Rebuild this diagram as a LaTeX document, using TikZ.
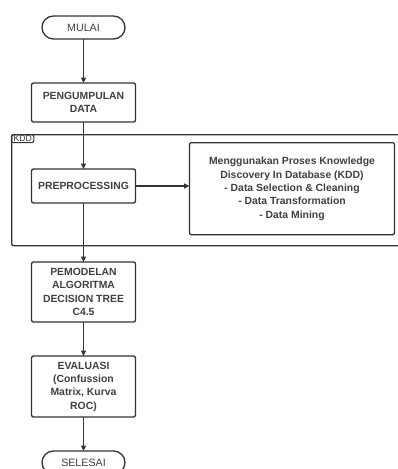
\documentclass[tikz,border=0pt]{standalone}
\usepackage{fontspec}
\setmainfont{Liberation Sans}
\usepackage{xcolor}
\usepackage{tikz}
\usetikzlibrary{arrows.meta, positioning}
\definecolor{ink}{HTML}{333333}
\definecolor{textgrey}{HTML}{404040}
\tikzstyle{terminal} = [rectangle, rounded corners=8.6pt, draw=ink, line width=1pt, fill=white, text=textgrey, minimum width=62.25pt, minimum height=17.25pt, align=center, font=\fontsize{8}{10}\selectfont, inner sep=1pt, outer sep=0pt]
\tikzstyle{process} = [rectangle, rounded corners=1.5pt, draw=ink, line width=1pt, fill=white, text=textgrey, minimum width=78pt, minimum height=29.25pt, align=center, font=\fontsize{7.8}{10}\selectfont\bfseries, inner xsep=3pt, inner ysep=1pt, outer sep=0pt]
\tikzstyle{infobox} = [process, minimum width=153.75pt, minimum height=69pt]
\tikzstyle{frame} = [rectangle, rounded corners=1.5pt, draw=ink, line width=1pt, inner sep=0pt]
\tikzstyle{tab} = [rectangle, rounded corners=1.5pt, draw=ink, line width=0.8pt, text=ink, font=\fontsize{6.5}{6.5}\selectfont, inner xsep=1.5pt, inner ysep=0.8pt]
\tikzstyle{flow} = [line width=1pt, -{Triangle[length=4pt, width=3.5pt]}, color=ink]

\begin{document}
\begin{tikzpicture}[x=0.75pt, y=-0.75pt]
\useasboundingbox (0,0) rectangle (398,469);

\node (kdd) [frame, anchor=north west, minimum width=293.25pt, minimum height=83.25pt] at (11,134) {};
\node (kddtab) [tab, anchor=north west] at (kdd.north west) {KDD};

\node (mulai) [terminal] at (83.5,27.5) {MULAI};
\node (kumpul) [process, below=33pt of mulai] {PENGUMPULAN\\DATA};
\node (pre) [process, minimum height=25.5pt, below=35.25pt of kumpul] {PREPROCESSING};
\node (info) [infobox, right=40.5pt of pre, yshift=-2pt] {Menggunakan Proses Knowledge\\Discovery In Database (KDD)\\- Data Selection \& Cleaning\\- Data Transformation\\- Data Mining};
\node (model) [process, minimum height=45pt, below=44.25pt of pre] {PEMODELAN\\ALGORITMA\\DECISION TREE\\C4.5};
\node (eval) [process, minimum height=45.75pt, below=25.5pt of model] {EVALUASI\\(Confussion\\Matrix, Kurva\\ROC)};
\node (selesai) [terminal, below=25.5pt of eval] {SELESAI};

\draw[flow] (mulai) -- (kumpul);
\draw[flow] (kumpul) -- (pre);
\draw[flow] (pre) -- (pre -| info.west);
\draw[flow] (pre) -- (model);
\draw[flow] (model) -- (eval);
\draw[flow] (eval) -- (selesai);
\end{tikzpicture}
\end{document}
